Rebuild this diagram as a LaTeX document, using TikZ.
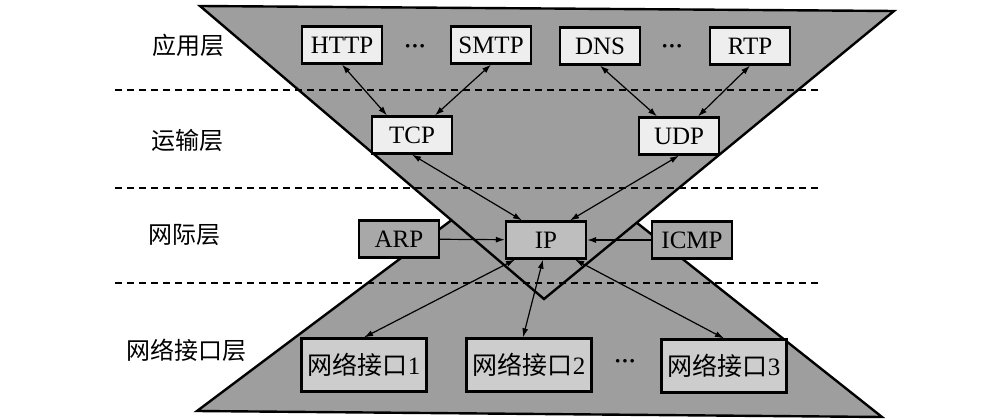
\documentclass[tikz,border=0pt]{standalone}
\usepackage{fontspec}
\setmainfont{Liberation Serif}
\newfontfamily\cjk{Noto Sans CJK SC}
\usepackage{tikz}
\usetikzlibrary{arrows.meta,positioning,calc}
\definecolor{LayerGray}{HTML}{9E9E9E}
\definecolor{ProtoLight}{HTML}{EEEEEE}
\definecolor{IpGray}{HTML}{BEBEBE}
\definecolor{AuxGray}{HTML}{A8A8A8}
\definecolor{NicGray}{HTML}{CDCDCD}

\begin{document}
\begin{tikzpicture}[x=1pt, y=-1pt,
	tri/.style={draw, line width=2.4pt, fill=LayerGray, line join=miter},
	proto/.style={draw, line width=2.2pt, fill=ProtoLight, minimum width=80pt, minimum height=37pt, inner sep=0pt, font=\fontsize{25}{25}\selectfont},
	nic/.style={proto, fill=NicGray, minimum width=125pt, minimum height=53pt},
	layer/.style={font=\cjk\fontsize{24}{24}\selectfont},
	sep/.style={line width=1.4pt, dash pattern=on 7pt off 5pt},
	more/.style={font=\bfseries\fontsize{22}{22}\selectfont},
	arrow/.style={-{Latex[length=9pt,width=6pt]}, line width=1.2pt},
	biarrow/.style={{Latex[length=9pt,width=6pt]}-{Latex[length=9pt,width=6pt]}, line width=1.2pt}
]
\useasboundingbox (0,0) rectangle (995,419);

% the two triangles
\draw[tri] (197,411) -- (545,150) -- (882,417) -- cycle;
\draw[tri] (200,6) -- (894,11) -- (544,299) -- cycle;

% layer borders
\draw[sep] (115,90) -- (820,90);
\draw[sep] (115,188) -- (820,188);
\draw[sep] (115,283) -- (820,283);

\node[layer] (app) at (188,45) {应用层};
\node[layer] (trans) at (187,140) {运输层};
\node[layer] (inter) at (184,235) {网际层};
\node[layer] (link) at (186,350) {网络接口层};

% application layer
\node[proto] (http) at (342,45) {HTTP};
\node[more] (dotsa) at (415,49) {···};
\node[proto] (smtp) at (491,45) {SMTP};
\node[proto] (dns) at (600,46) {DNS};
\node[more] (dotsb) at (672,49) {···};
\node[proto] (rtp) at (750,46) {RTP};

% transport layer
\node[proto] (tcp) at (412,135) {TCP};
\node[proto] (udp) at (679,136) {UDP};

% internet layer
\node[proto, fill=AuxGray] (arp) at (399,239) {ARP};
\node[proto, fill=IpGray] (ip) at (546,240) {IP};
\node[proto, fill=AuxGray] (icmp) at (692,240) {ICMP};

% network interfaces
\node[nic] (nica) at (364,365) {{\cjk 网络接口}1};
\node[nic] (nicb) at (529,365) {{\cjk 网络接口}2};
\node[more] (dotsc) at (625,364) {···};
\node[nic] (nicc) at (724,366) {{\cjk 网络接口}3};

\draw[biarrow] (http.south) -- ([xshift=-25pt]tcp.north);
\draw[biarrow] (smtp.south) -- ([xshift=23pt]tcp.north);
\draw[biarrow] (dns.south) -- ([xshift=-22pt]udp.north);
\draw[biarrow] (rtp.south) -- ([xshift=19pt]udp.north);
\draw[biarrow] (tcp.south) -- ([xshift=-24pt]ip.north);
\draw[biarrow] (udp.south) -- ([xshift=24pt]ip.north);
\draw[arrow] (arp) -- (ip);
\draw[arrow] (icmp) -- (ip);
\draw[biarrow] ([xshift=-31pt]ip.south) -- (nica.north);
\draw[biarrow] ([xshift=-3pt]ip.south) -- ([xshift=-6pt]nicb.north);
\draw[biarrow] ([xshift=29pt]ip.south) -- (nicc.north);
\end{tikzpicture}
\end{document}
